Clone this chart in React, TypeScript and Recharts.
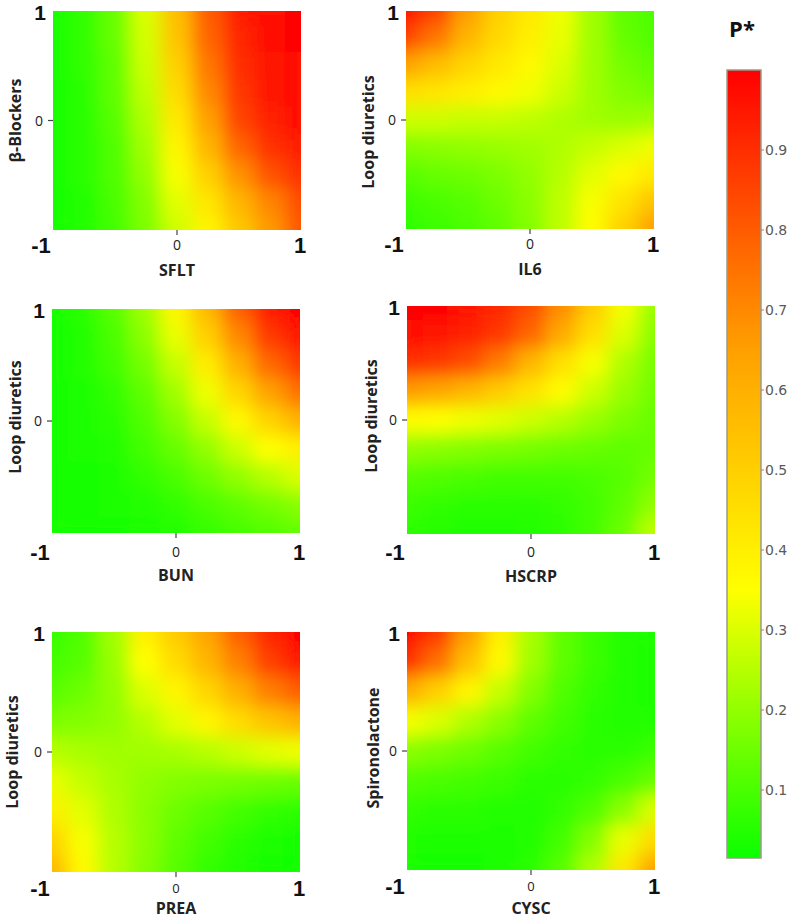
import React from 'react';
import { ScatterChart, Scatter, XAxis, YAxis, BarChart, Bar } from 'recharts';

// grid positions (columns left -> right, rows top -> bottom)
const GRID_X = [-1, -0.75, -0.5, -0.25, 0, 0.25, 0.5, 0.75, 1];
const GRID_Y = [1, 0.75, 0.5, 0.25, 0, -0.25, -0.5, -0.75, -1];

// P*, one row per GRID_Y value
const sfltBeta = [
  [0.03, 0.07, 0.14, 0.30, 0.56, 0.80, 0.94, 0.98, 1.00],
  [0.03, 0.07, 0.14, 0.29, 0.54, 0.78, 0.92, 0.97, 0.99],
  [0.03, 0.07, 0.13, 0.28, 0.50, 0.74, 0.90, 0.96, 0.98],
  [0.03, 0.06, 0.13, 0.26, 0.46, 0.70, 0.88, 0.95, 0.97],
  [0.03, 0.06, 0.12, 0.24, 0.42, 0.65, 0.85, 0.93, 0.97],
  [0.03, 0.06, 0.11, 0.22, 0.38, 0.58, 0.78, 0.89, 0.94],
  [0.03, 0.06, 0.11, 0.20, 0.34, 0.50, 0.68, 0.82, 0.90],
  [0.03, 0.05, 0.10, 0.18, 0.31, 0.43, 0.58, 0.71, 0.84],
  [0.03, 0.05, 0.09, 0.17, 0.28, 0.38, 0.52, 0.66, 0.82],
];

const il6Loop = [
  [1.00, 0.88, 0.66, 0.50, 0.42, 0.33, 0.22, 0.13, 0.10],
  [0.86, 0.74, 0.58, 0.47, 0.40, 0.32, 0.22, 0.14, 0.11],
  [0.64, 0.56, 0.48, 0.42, 0.37, 0.30, 0.22, 0.16, 0.13],
  [0.45, 0.43, 0.40, 0.37, 0.33, 0.28, 0.22, 0.18, 0.16],
  [0.28, 0.28, 0.27, 0.27, 0.26, 0.24, 0.22, 0.21, 0.22],
  [0.18, 0.19, 0.20, 0.21, 0.22, 0.24, 0.27, 0.30, 0.33],
  [0.12, 0.14, 0.15, 0.17, 0.20, 0.25, 0.31, 0.37, 0.42],
  [0.08, 0.10, 0.12, 0.15, 0.19, 0.26, 0.34, 0.44, 0.54],
  [0.06, 0.08, 0.10, 0.13, 0.18, 0.26, 0.36, 0.50, 0.66],
];

const bunLoop = [
  [0.03, 0.06, 0.12, 0.22, 0.38, 0.58, 0.80, 0.95, 1.00],
  [0.03, 0.05, 0.10, 0.19, 0.32, 0.50, 0.70, 0.87, 0.96],
  [0.03, 0.05, 0.09, 0.16, 0.27, 0.41, 0.60, 0.77, 0.88],
  [0.03, 0.04, 0.07, 0.13, 0.22, 0.33, 0.48, 0.64, 0.76],
  [0.03, 0.04, 0.06, 0.11, 0.18, 0.27, 0.37, 0.49, 0.60],
  [0.03, 0.04, 0.05, 0.09, 0.14, 0.20, 0.28, 0.35, 0.40],
  [0.03, 0.03, 0.04, 0.07, 0.10, 0.15, 0.20, 0.25, 0.30],
  [0.03, 0.03, 0.04, 0.05, 0.07, 0.10, 0.13, 0.16, 0.19],
  [0.03, 0.03, 0.03, 0.04, 0.05, 0.07, 0.09, 0.11, 0.13],
];

const hscrpLoop = [
  [1.00, 0.99, 0.96, 0.92, 0.84, 0.70, 0.52, 0.34, 0.20],
  [0.98, 0.96, 0.93, 0.88, 0.78, 0.62, 0.45, 0.30, 0.18],
  [0.90, 0.88, 0.83, 0.73, 0.58, 0.45, 0.34, 0.24, 0.16],
  [0.66, 0.63, 0.58, 0.51, 0.44, 0.36, 0.28, 0.21, 0.15],
  [0.36, 0.35, 0.33, 0.31, 0.28, 0.25, 0.21, 0.17, 0.14],
  [0.20, 0.19, 0.18, 0.17, 0.16, 0.15, 0.14, 0.13, 0.14],
  [0.12, 0.11, 0.10, 0.09, 0.09, 0.09, 0.10, 0.12, 0.16],
  [0.08, 0.07, 0.06, 0.06, 0.06, 0.07, 0.09, 0.13, 0.20],
  [0.06, 0.05, 0.04, 0.04, 0.05, 0.06, 0.09, 0.15, 0.27],
];

const preaLoop = [
  [0.07, 0.11, 0.22, 0.40, 0.52, 0.64, 0.80, 0.93, 1.00],
  [0.09, 0.12, 0.21, 0.35, 0.46, 0.58, 0.72, 0.86, 0.95],
  [0.12, 0.15, 0.20, 0.30, 0.38, 0.48, 0.60, 0.72, 0.80],
  [0.17, 0.18, 0.20, 0.25, 0.31, 0.38, 0.46, 0.54, 0.60],
  [0.25, 0.23, 0.22, 0.22, 0.23, 0.25, 0.28, 0.31, 0.33],
  [0.32, 0.27, 0.23, 0.20, 0.18, 0.17, 0.16, 0.15, 0.14],
  [0.40, 0.31, 0.24, 0.19, 0.15, 0.12, 0.09, 0.07, 0.06],
  [0.50, 0.34, 0.25, 0.19, 0.13, 0.09, 0.06, 0.04, 0.03],
  [0.60, 0.37, 0.25, 0.18, 0.12, 0.07, 0.05, 0.03, 0.02],
];

const cyscSpiro = [
  [1.00, 0.90, 0.66, 0.40, 0.23, 0.13, 0.08, 0.05, 0.04],
  [0.92, 0.76, 0.55, 0.37, 0.22, 0.13, 0.08, 0.05, 0.04],
  [0.62, 0.50, 0.38, 0.27, 0.18, 0.11, 0.07, 0.05, 0.04],
  [0.34, 0.30, 0.24, 0.19, 0.13, 0.09, 0.06, 0.05, 0.05],
  [0.19, 0.17, 0.15, 0.12, 0.09, 0.07, 0.06, 0.06, 0.08],
  [0.11, 0.10, 0.09, 0.08, 0.06, 0.06, 0.07, 0.10, 0.14],
  [0.07, 0.06, 0.06, 0.05, 0.05, 0.07, 0.11, 0.19, 0.30],
  [0.05, 0.04, 0.04, 0.04, 0.05, 0.09, 0.18, 0.32, 0.47],
  [0.04, 0.03, 0.03, 0.04, 0.06, 0.12, 0.24, 0.43, 0.66],
];

const X_TITLES = ['SFLT', 'IL6', 'BUN', 'HSCRP', 'PREA', 'CYSC'];
const Y_TITLES = ['β-Blockers', 'Loop diuretics', 'Loop diuretics', 'Loop diuretics', 'Loop diuretics', 'Spironolactone'];
const PANEL_DATA = [sfltBeta, il6Loop, bunLoop, hscrpLoop, preaLoop, cyscSpiro];

const CBAR_TICKS = [0.1, 0.2, 0.3, 0.4, 0.5, 0.6, 0.7, 0.8, 0.9];
const CBAR_RANGE: [number, number] = [0.015, 1];

// green -> yellow -> orange -> red
const P_STOPS = [0, 0.35, 0.65, 1];
const P_COLORS = [
  [0, 255, 0],
  [255, 255, 0],
  [255, 160, 0],
  [255, 0, 0],
];

function pColor(v: number) {
  const t = Math.max(0, Math.min(1, v));
  let i = 0;
  while (i < P_STOPS.length - 2 && t > P_STOPS[i + 1]) i++;
  const f = (t - P_STOPS[i]) / (P_STOPS[i + 1] - P_STOPS[i]);
  const c = P_COLORS[i].map((a, k) => Math.round(a + (P_COLORS[i + 1][k] - a) * f));
  return `rgb(${c.join(',')})`;
}

const FONT = "'Open Sans', 'DejaVu Sans', sans-serif";
const NUM_FONT = "'Liberation Sans', Arial, sans-serif";
const PLOT_W = 248;
const Y_AXIS_W = 52;

// panel placement
const LAYOUT = [
  { left: 1, top: 0, mt: 11, plotH: 219, axisH: 50, tickDy: 15, zeroFs: 14, titleDx: -38, titleDy: 0, xTitleDy: 40 },
  { left: 354, top: 0, mt: 11, plotH: 218, axisH: 50, tickDy: 15, zeroFs: 14, titleDx: -38, titleDy: 12, xTitleDy: 40 },
  { left: 0, top: 290, mt: 19, plotH: 224, axisH: 52, tickDy: 19, zeroFs: 14, titleDx: -37, titleDy: -4, xTitleDy: 42 },
  { left: 355, top: 290, mt: 16, plotH: 228, axisH: 52, tickDy: 18, zeroFs: 14, titleDx: -36, titleDy: -4, xTitleDy: 42 },
  { left: 0, top: 600, mt: 32, plotH: 240, axisH: 48, tickDy: 16, zeroFs: 13, titleDx: -40, titleDy: 0, xTitleDy: 36 },
  { left: 355, top: 600, mt: 32, plotH: 238, axisH: 50, tickDy: 16, zeroFs: 13, titleDx: -34, titleDy: -3, xTitleDy: 38 },
];

type PanelProps = { grid: number[][]; xTitle: string; yTitle: string; cfg: (typeof LAYOUT)[number] };

const HeatPanel: React.FC<PanelProps> = ({ grid, xTitle, yTitle, cfg }) => {
  const data = React.useMemo(
    () => GRID_Y.flatMap((y, r) => GRID_X.map((x, c) => ({ x, y, v: grid[r][c] }))),
    [grid]
  );
  const { mt, plotH, axisH, tickDy, zeroFs } = cfg;
  const plotL = Y_AXIS_W;
  const plotR = Y_AXIS_W + PLOT_W;
  const plotT = mt;
  const plotB = mt + plotH;
  const hw = PLOT_W / 16 + 0.5;
  const hh = plotH / 16 + 0.5;

  const cell = (p: any) => {
    const x0 = Math.max(p.cx - hw, plotL);
    const x1 = Math.min(p.cx + hw, plotR);
    const y0 = Math.max(p.cy - hh, plotT);
    const y1 = Math.min(p.cy + hh, plotB);
    return <rect x={x0} y={y0} width={x1 - x0} height={y1 - y0} fill={pColor(p.payload.v)} />;
  };

  const xTick = (p: any) => {
    const { x, y, payload } = p;
    if (payload.value === 0) {
      return (
        <g>
          <line x1={x} x2={x} y1={y} y2={y + 5} stroke="#444" strokeWidth={1.2} />
          <text x={x} y={y + tickDy} dy="0.36em" textAnchor="middle" fontSize={zeroFs} fontFamily={FONT} fill="#222">0</text>
        </g>
      );
    }
    const lx = payload.value < 0 ? x - 12 : x - 1;
    return (
      <text x={lx} y={y + tickDy} dy="0.36em" textAnchor="middle" fontSize={22} fontWeight={700} fontFamily={NUM_FONT} fill="#111">
        {payload.value}
      </text>
    );
  };

  const yTick = (p: any) => {
    const { x, y, payload } = p;
    if (payload.value === 0) {
      return (
        <g>
          <line x1={x - 5} x2={x} y1={y} y2={y} stroke="#444" strokeWidth={1.2} />
          <text x={x - 14} y={y} dy="0.36em" textAnchor="middle" fontSize={14} fontFamily={FONT} fill="#222">0</text>
        </g>
      );
    }
    return (
      <text x={x - 13} y={y + 1} dy="0.36em" textAnchor="middle" fontSize={21} fontWeight={700} fontFamily={NUM_FONT} fill="#111">
        1
      </text>
    );
  };

  const yTitleX = plotL + cfg.titleDx;
  const yTitleY = mt + plotH / 2 + cfg.titleDy;

  return (
    <div className="heat" style={{ position: 'absolute', left: cfg.left, top: cfg.top }}>
      <ScatterChart width={plotR + 30} height={plotB + axisH} margin={{ top: mt, right: 30, bottom: 0, left: 0 }}>
        <XAxis
          type="number"
          dataKey="x"
          domain={[-1, 1]}
          ticks={[-1, 0, 1]}
          interval={0}
          height={axisH}
          axisLine={false}
          tickLine={false}
          tickSize={0}
          tickMargin={0}
          tick={xTick}
          label={() => (
            <text x={plotL + PLOT_W / 2} y={plotB + cfg.xTitleDy} dy="0.36em" textAnchor="middle" fontSize={16} fontWeight={700} fontFamily={FONT} fill="#222">
              {xTitle}
            </text>
          )}
        />
        <YAxis
          type="number"
          dataKey="y"
          domain={[-1, 1]}
          ticks={[0, 1]}
          interval={0}
          width={Y_AXIS_W}
          axisLine={false}
          tickLine={false}
          tickSize={0}
          tickMargin={0}
          tick={yTick}
          label={() => (
            <text
              x={yTitleX}
              y={yTitleY}
              dy="0.36em"
              transform={`rotate(-90 ${yTitleX} ${yTitleY})`}
              textAnchor="middle"
              fontSize={16}
              fontWeight={700}
              fontFamily={FONT}
              fill="#222"
            >
              {yTitle}
            </text>
          )}
        />
        <Scatter data={data} shape={cell} isAnimationActive={false} />
      </ScatterChart>
    </div>
  );
};

const ColorBar: React.FC = () => {
  const [lo, hi] = CBAR_RANGE;
  const stops = [lo, ...P_STOPS.filter((s) => s > lo && s <= hi)];
  const barData = [{ name: 'P*', range: CBAR_RANGE }];
  return (
    <div style={{ position: 'absolute', left: 698, top: 0 }}>
      <BarChart width={89} height={920} data={barData} margin={{ top: 70, right: 0, bottom: 50, left: 29 }} barCategoryGap={0}>
        <defs>
          <linearGradient id="pstarGrad" x1="0" y1="1" x2="0" y2="0">
            {stops.map((s) => (
              <stop key={s} offset={(s - lo) / (hi - lo)} stopColor={pColor(s)} />
            ))}
          </linearGradient>
        </defs>
        <XAxis dataKey="name" hide />
        <YAxis
          type="number"
          orientation="right"
          domain={[0, 1]}
          ticks={CBAR_TICKS}
          interval={0}
          width={26}
          axisLine={false}
          tickSize={3}
          tickMargin={1}
          tickLine={{ stroke: '#888' }}
          tick={{ fontSize: 14, fill: '#5a5a5a', fontFamily: "'DejaVu Sans', sans-serif", textAnchor: 'start' }}
        />
        <Bar dataKey="range" fill="url(#pstarGrad)" stroke="#9a9a8a" strokeWidth={1.5} isAnimationActive={false} />
      </BarChart>
    </div>
  );
};

export default function App() {
  return (
    <div style={{ position: 'absolute', left: 0, top: 0, width: 787, height: 920, overflow: 'hidden', background: '#fff' }}>
      <style>{`.heat .recharts-scatter { filter: url(#soften); }`}</style>
      <svg width={0} height={0} style={{ position: 'absolute' }}>
        <defs>
          <filter id="soften" x="0" y="0" width="1" height="1" colorInterpolationFilters="linearRGB">
            <feGaussianBlur stdDeviation={9} />
            <feComponentTransfer>
              <feFuncA type="linear" slope={40} intercept={0} />
            </feComponentTransfer>
          </filter>
        </defs>
      </svg>
      {PANEL_DATA.map((grid, i) => (
        <HeatPanel key={X_TITLES[i]} grid={grid} xTitle={X_TITLES[i]} yTitle={Y_TITLES[i]} cfg={LAYOUT[i]} />
      ))}
      <ColorBar />
      <div
        style={{
          position: 'absolute',
          left: 720,
          top: 14,
          width: 44,
          textAlign: 'center',
          fontFamily: FONT,
          fontWeight: 700,
          fontSize: 22,
          lineHeight: '28px',
          color: '#111',
        }}
      >
        P*
      </div>
    </div>
  );
}
